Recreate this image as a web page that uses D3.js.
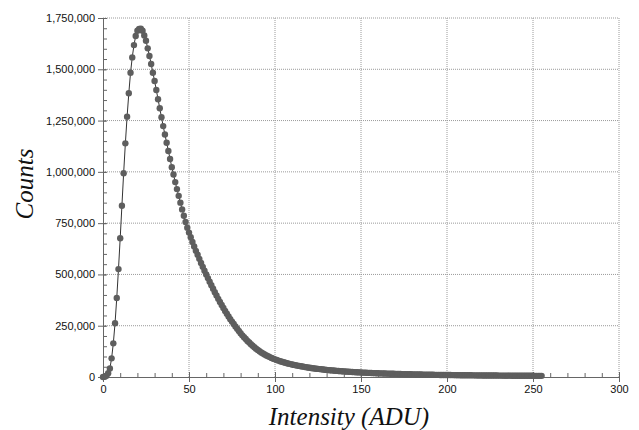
<!DOCTYPE html>
<html>
<head>
<meta charset="utf-8">
<script src="https://cdn.jsdelivr.net/npm/d3@7"></script>
<style>
body { margin: 0; background: #fff; }
.axis text { font-family: "Liberation Sans", Arial, sans-serif; font-size: 11px; fill: #111; }
.axis path, .axis line { stroke: #666; }
.grid line { stroke: #9a9a9a; stroke-dasharray: 1,1; }
.title { font-family: "Liberation Serif", "Times New Roman", serif; font-style: italic; font-size: 25px; fill: #111; }
</style>
</head>
<body>
<svg width="639" height="430"></svg>
<script>
// Histogram counts per intensity bin (ADU 0..255)
var counts = [
    0, 1500, 6000, 18000, 42000, 91000, 164000, 262000, 385000, 526000,
    676000, 835000, 993000, 1139000, 1269000, 1383000, 1483000, 1558000, 1618000, 1662000,
    1688000, 1697000, 1698000, 1688000, 1665000, 1639000, 1602000, 1565000, 1526000, 1483000,
    1443000, 1399000, 1354000, 1310000, 1266000, 1223000, 1182000, 1142000, 1102000, 1063000,
    1023000, 987000, 950000, 916000, 883000, 850000, 817000, 786000, 756000, 728000,
    704000, 681000, 658000, 636000, 615000, 596000, 576000, 556000, 537000, 518000,
    500000, 482000, 464000, 447000, 430000, 413000, 397000, 381000, 366000, 351000,
    336000, 322000, 308000, 295000, 282000, 270000, 258000, 246000, 235000, 224000,
    213000, 203000, 194000, 185000, 176000, 168000, 160000, 152000, 145000, 138000,
    132000, 126000, 120000, 115000, 110000, 105000, 101000, 97000, 93000, 89000,
    86000, 83000, 80000, 77000, 74000, 72000, 69500, 67000, 65000, 63000,
    61000, 59000, 57000, 55500, 54000, 52500, 51000, 49500, 48000, 46500,
    45000, 44000, 42500, 41500, 40500, 39500, 38500, 37500, 36500, 35500,
    34500, 33700, 33000, 32200, 31500, 30800, 30000, 29300, 28600, 28000,
    27300, 26700, 26100, 25500, 25000, 24400, 23900, 23400, 22900, 22400,
    22000, 21500, 21100, 20700, 20300, 19900, 19500, 19100, 18800, 18400,
    18100, 17800, 17500, 17200, 16900, 16600, 16300, 16000, 15700, 15500,
    15200, 15000, 14700, 14500, 14200, 14000, 13800, 13500, 13300, 13100,
    12900, 12700, 12500, 12300, 12100, 11900, 11700, 11500, 11400, 11200,
    11000, 10900, 10700, 10600, 10400, 10300, 10100, 10000, 9900, 9700,
    9600, 9500, 9400, 9300, 9200, 9100, 9000, 8900, 8800, 8700,
    8600, 8500, 8400, 8300, 8200, 8100, 8000, 7900, 7800, 7800,
    7700, 7600, 7500, 7400, 7400, 7300, 7200, 7100, 7100, 7000,
    6900, 6900, 6800, 6700, 6700, 6600, 6500, 6500, 6400, 6400,
    6300, 6300, 6200, 6100, 6100, 6000, 6000, 5900, 5900, 5800,
    5800, 5700, 5700, 5600, 5600, 5500
];

var xTicks = [0, 50, 100, 150, 200, 250, 300];
var yTicks = [0, 250000, 500000, 750000, 1000000, 1250000, 1500000, 1750000];
var xTitle = "Intensity (ADU)";
var yTitle = "Counts";

var svg = d3.select("svg");
var svgWidth = +svg.attr("width");
var svgHeight = +svg.attr("height");

var margin = {top: 18, left: 103, bottom: 53, right: 20};
var width = svgWidth - margin.left - margin.right;
var height = svgHeight - margin.top - margin.bottom;

var g = svg.append("g")
    .attr("transform", "translate(" + [margin.left, margin.top] + ")");

var xScale = d3.scaleLinear().domain([0, 300]).range([0, width]);
var yScale = d3.scaleLinear().domain([0, 1750000]).range([height, 0]);

// Dotted grid at the major ticks (skip the axis lines themselves)
g.append("g").attr("class", "grid")
    .selectAll("line")
    .data(xTicks.slice(1))
    .enter().append("line")
    .attr("x1", function(d) { return xScale(d); })
    .attr("x2", function(d) { return xScale(d); })
    .attr("y1", 0)
    .attr("y2", height);

g.append("g").attr("class", "grid")
    .selectAll("line")
    .data(yTicks.slice(1))
    .enter().append("line")
    .attr("x1", 0)
    .attr("x2", width)
    .attr("y1", function(d) { return yScale(d); })
    .attr("y2", function(d) { return yScale(d); });

// Minor ticks point inside the plot
g.append("g").attr("class", "axis")
    .attr("transform", "translate(0," + height + ")")
    .call(d3.axisBottom(xScale).tickValues(d3.range(0, 301, 10)).tickSize(-4).tickFormat(""))
    .select(".domain").remove();

g.append("g").attr("class", "axis")
    .call(d3.axisLeft(yScale).tickValues(d3.range(0, 1750001, 50000)).tickSize(-4).tickFormat(""))
    .select(".domain").remove();

// Major ticks
var xAxisG = g.append("g").attr("class", "axis")
    .attr("transform", "translate(0," + height + ")")
    .call(d3.axisBottom(xScale).tickValues(xTicks).tickSizeOuter(0).tickSize(5).tickPadding(3));
xAxisG.selectAll(".tick line").attr("y1", -5);

var yAxisG = g.append("g").attr("class", "axis")
    .call(d3.axisLeft(yScale).tickValues(yTicks).tickSizeOuter(0).tickSize(5).tickPadding(3)
        .tickFormat(d3.format(",")));
yAxisG.selectAll(".tick line").attr("x1", 3);

// Line through the bins, then the markers
var line = d3.line()
    .x(function(d, i) { return xScale(i); })
    .y(function(d) { return yScale(d); });

g.append("path")
    .datum(counts)
    .attr("d", line)
    .attr("fill", "none")
    .attr("stroke", "#333")
    .attr("stroke-width", 1);

g.selectAll(".pt")
    .data(counts)
    .enter().append("circle")
    .attr("class", "pt")
    .attr("cx", function(d, i) { return xScale(i); })
    .attr("cy", function(d) { return yScale(d); })
    .attr("r", 3.2)
    .attr("fill", "#5e5e5e");

// Axis titles
svg.append("text")
    .attr("class", "title")
    .attr("text-anchor", "middle")
    .attr("x", margin.left + xScale(143))
    .attr("y", 425)
    .text(xTitle);

svg.append("text")
    .attr("class", "title")
    .attr("text-anchor", "middle")
    .attr("transform", "translate(33,184) rotate(-90)")
    .text(yTitle);
</script>
</body>
</html>
